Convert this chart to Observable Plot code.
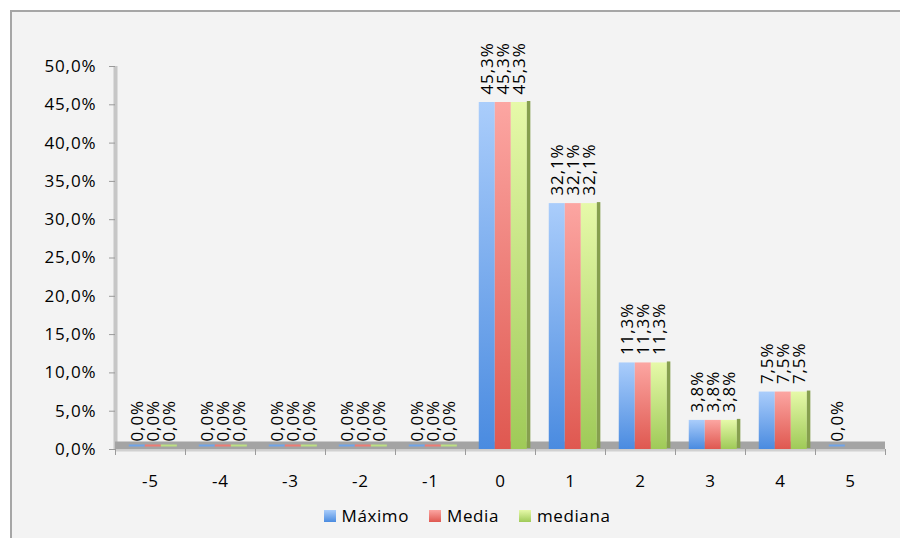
<!DOCTYPE html>
<html><head><meta charset="utf-8">
<script src="https://cdn.jsdelivr.net/npm/d3@7"></script>
<script src="https://cdn.jsdelivr.net/npm/@observablehq/plot@0.6"></script>
<style>
body{margin:0;background:#fff;font-family:"Open Sans",sans-serif;}
#chart{position:absolute;left:10px;top:10px;width:910px;height:540px;border:2px solid #a6a6a6;background:#f3f3f3;}
#legend{display:flex;justify-content:center;align-items:center;gap:20px;font-size:17px;letter-spacing:0.6px;color:#000;margin-top:2px;}
#legend .item{display:flex;align-items:center;gap:6px;}
#legend .sw{width:12px;height:12px;display:inline-block;}
svg text{letter-spacing:0.9px;}
</style></head><body><div id="chart"></div>
<script>
const categories = [-5, -4, -3, -2, -1, 0, 1, 2, 3, 4, 5];
const series = ["Máximo", "Media", "mediana"];
const maximo  = [0, 0, 0, 0, 0, 45.3, 32.1, 11.3, 3.8, 7.5, 0];
const media   = [0, 0, 0, 0, 0, 45.3, 32.1, 11.3, 3.8, 7.5, null];
const mediana = [0, 0, 0, 0, 0, 45.3, 32.1, 11.3, 3.8, 7.5, null];
const yTicks = [0, 5, 10, 15, 20, 25, 30, 35, 40, 45, 50];
const boundaries = [-5.5, -4.5, -3.5, -2.5, -1.5, -0.5, 0.5, 1.5, 2.5, 3.5, 4.5, 5.5];
const seriesColors = ["#6fa4ea", "#ee7b74", "#bde082"];
const gradStops = [["#aacdfb", "#4a8be0"], ["#fca6a2", "#df5850"], ["#e6f9a9", "#9fca58"]];

const fmt = v => v.toFixed(1).replace(".", ",") + "%";
const bw = 0.229;
const values = [maximo, media, mediana];
const rows = [];
categories.forEach((c, i) => {
  series.forEach((s, si) => {
    const v = values[si][i];
    if (v === null) return;
    const cx = c + (si - 1) * bw + 0.04;
    rows.push({cat: c, series: s, si, value: v, x1: cx - bw / 2, x2: cx + bw / 2, cx});
  });
});
const nonZero = rows.filter(d => d.value > 0);
const zeros = rows.filter(d => d.value === 0);
const sides = nonZero.filter(d => d.si === 2);

const plot = Plot.plot({
  width: 908, height: 490,
  marginLeft: 103, marginRight: 35, marginTop: 54, marginBottom: 53,
  style: {background: "transparent", fontFamily: "'Open Sans', sans-serif", fontSize: "17px", color: "#000"},
  x: {domain: [-5.5, 5.5]},
  y: {domain: [0, 50]},
  marks: [
    Plot.ruleX([-5.5], {y1: 0, y2: 50, stroke: "#c6c6c6", strokeWidth: 4}),
    Plot.ruleY([0], {x1: -5.5, x2: 5.5, stroke: "#a4a4a4", strokeWidth: 8, dy: -4}),
    Plot.ruleY([0], {x1: -5.5, x2: 5.5, stroke: "#d0d0d0", strokeWidth: 2, dy: 1}),
    Plot.axisY({ticks: yTicks, tickFormat: fmt, tickSize: 6, tickPadding: 13, label: null, stroke: "#9a9a9a", fill: "#000"}),
    Plot.axisX({ticks: boundaries, tickFormat: () => "", tickSize: 6, label: null, stroke: "#9a9a9a"}),
    Plot.axisX({ticks: categories, tickFormat: d => String(d), tickSize: 0, tickPadding: 25, label: null, fill: "#000"}),
    Plot.rectY(nonZero, {x1: "x1", x2: "x2", y1: 0, y2: "value", fill: d => `url(#grad${d.si})`}),
    Plot.rectY(sides, {x1: "x2", x2: d => d.x2 + 0.05, y1: 0, y2: "value", fill: "#869f4e", dy: -1}),
    Plot.ruleY(zeros, {x1: "x1", x2: "x2", y: 0, stroke: d => seriesColors[d.si], strokeWidth: 2, dy: -4}),
    Plot.text(rows, {x: "cx", y: "value", text: d => fmt(d.value), rotate: -90, textAnchor: "start", dy: -8, fontSize: 17, fill: "#000"})
  ]
});

const defs = document.createElementNS("http://www.w3.org/2000/svg", "defs");
defs.innerHTML = gradStops.map((g, i) =>
  `<linearGradient id="grad${i}" x1="0" y1="0" x2="0" y2="1"><stop offset="0" stop-color="${g[0]}"/><stop offset="1" stop-color="${g[1]}"/></linearGradient>`
).join("");
plot.insertBefore(defs, plot.firstChild);

const chart = document.getElementById("chart");
chart.appendChild(plot);
const legend = document.createElement("div");
legend.id = "legend";
series.forEach((s, i) => {
  const item = document.createElement("div");
  item.className = "item";
  const sw = document.createElement("span");
  sw.className = "sw";
  sw.style.background = `linear-gradient(${gradStops[i][0]}, ${gradStops[i][1]})`;
  const t = document.createElement("span");
  t.textContent = s;
  item.appendChild(sw); item.appendChild(t);
  legend.appendChild(item);
});
chart.appendChild(legend);
</script></body></html>
